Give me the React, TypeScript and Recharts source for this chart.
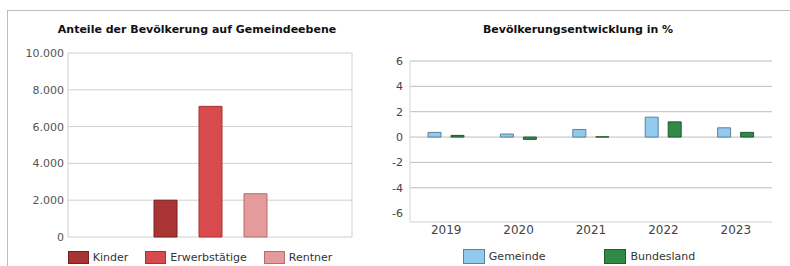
import { BarChart, Bar, XAxis, YAxis, CartesianGrid, Legend } from 'recharts';

// Anteile der Bevölkerung (single group, three series)
const groupLabel = [''];
const kinder = [2000];
const erwerbstaetige = [7100];
const rentner = [2350];
const popTicks = [0, 2000, 4000, 6000, 8000, 10000];

// Bevölkerungsentwicklung in %
const years = ['2019', '2020', '2021', '2022', '2023'];
const gemeinde = [0.37, 0.24, 0.6, 1.57, 0.73];
const bundesland = [0.13, -0.18, 0.02, 1.2, 0.37];
const pctTicks = [-6, -4, -2, 0, 2, 4, 6];
const pctGrid = [-4, -2, 0, 2, 4, 6];

const FONT = '"DejaVu Sans", Verdana, sans-serif';

const SERIES_ORDER = ['Kinder', 'Erwerbstätige', 'Rentner', 'Gemeinde', 'Bundesland'];
const STROKES: Record<string, string> = {
  Kinder: '#7a2020',
  'Erwerbstätige': '#a83232',
  Rentner: '#b56d6d',
  Gemeinde: '#5f809b',
  Bundesland: '#1f5c30',
};

const popData = groupLabel.map((name, i) => ({
  name,
  kinder: kinder[i],
  erwerbstaetige: erwerbstaetige[i],
  rentner: rentner[i],
}));

const pctData = years.map((year, i) => ({
  year,
  gemeinde: gemeinde[i],
  bundesland: bundesland[i],
}));

const formatDe = (v: number) => String(v).replace(/\B(?=(\d{3})+(?!\d))/g, '.');

function BoxLegend({ payload, gap, box }: any) {
  const items = [...(payload || [])].sort(
    (a: any, b: any) => SERIES_ORDER.indexOf(a.value) - SERIES_ORDER.indexOf(b.value)
  );
  return (
    <div
      style={{
        display: 'flex',
        justifyContent: 'center',
        alignItems: 'center',
        gap,
        height: 20,
        fontFamily: FONT,
        fontSize: 11,
        color: '#333',
      }}
    >
      {items.map((p: any) => (
        <div key={p.value} style={{ display: 'flex', alignItems: 'center' }}>
          <span
            style={{
              display: 'inline-block',
              width: box[0],
              height: box[1],
              background: p.color,
              border: `1px solid ${STROKES[p.value] || '#555'}`,
              marginRight: 4,
              boxSizing: 'border-box',
            }}
          />
          {p.value}
        </div>
      ))}
    </div>
  );
}

const titleStyle: React.CSSProperties = {
  position: 'absolute',
  top: 23,
  fontFamily: FONT,
  fontSize: 11,
  fontWeight: 'bold',
  lineHeight: '14px',
  color: '#111',
  textAlign: 'center',
  whiteSpace: 'nowrap',
};

export default function App() {
  return (
    <div
      style={{
        position: 'absolute',
        left: 0,
        top: 0,
        width: 790,
        height: 266,
        background: '#fff',
        overflow: 'hidden',
      }}
    >
      <div
        style={{
          position: 'absolute',
          left: 7,
          top: 10,
          right: 0,
          bottom: 0,
          borderTop: '1px solid #bdbdbd',
          borderLeft: '1px solid #bdbdbd',
        }}
      />

      <div style={{ ...titleStyle, left: 47, width: 300 }}>
        Anteile der Bevölkerung auf Gemeindeebene
      </div>
      <div style={{ ...titleStyle, left: 428, width: 300 }}>
        Bevölkerungsentwicklung in %
      </div>

      <div style={{ position: 'absolute', left: 0, top: 0 }}>
        <BarChart
          width={390}
          height={266}
          data={popData}
          margin={{ top: 53, right: 38, left: 8, bottom: 9 }}
          barGap={22}
        >
          <CartesianGrid
            stroke="#cfcfcf"
            horizontal
            vertical
            verticalCoordinatesGenerator={({ offset }: any) => [offset.left, offset.left + offset.width]}
          />
          <XAxis dataKey="name" hide />
          <YAxis
            width={60}
            domain={[0, 10000]}
            ticks={popTicks}
            axisLine={false}
            tickLine={false}
            tickSize={0}
            tickMargin={4}
            tickFormatter={formatDe}
            tick={{ fontSize: 11, fill: '#555', fontFamily: FONT }}
          />
          <Legend
            height={20}
            wrapperStyle={{ left: 10, top: 247, width: 380 }}
            content={(props: any) => <BoxLegend {...props} gap={17} box={[21, 13]} />}
          />
          <Bar dataKey="kinder" name="Kinder" fill="#a83434" stroke={STROKES.Kinder} barSize={23} isAnimationActive={false} />
          <Bar dataKey="erwerbstaetige" name="Erwerbstätige" fill="#d84a4b" stroke={STROKES['Erwerbstätige']} barSize={23} isAnimationActive={false} />
          <Bar dataKey="rentner" name="Rentner" fill="#e39b9b" stroke={STROKES.Rentner} barSize={23} isAnimationActive={false} />
        </BarChart>
      </div>

      <div style={{ position: 'absolute', left: 390, top: 0 }}>
        <BarChart
          width={400}
          height={266}
          data={pctData}
          margin={{ top: 61, right: 18, left: 0, bottom: 0 }}
          barGap={10}
        >
          <CartesianGrid stroke="#bdbdbd" vertical={false} horizontalValues={pctGrid} />
          <XAxis
            dataKey="year"
            height={24}
            axisLine={{ stroke: '#cfcfcf' }}
            tickLine={false}
            tickSize={0}
            tickMargin={3}
            tick={{ fontSize: 12, fill: '#444', fontFamily: FONT }}
          />
          <YAxis
            width={20}
            domain={[-6.7, 6]}
            ticks={pctTicks}
            axisLine={{ stroke: '#d5d5d5' }}
            tickLine={false}
            tickSize={0}
            tickMargin={7}
            tick={{ fontSize: 11, fill: '#444', fontFamily: FONT }}
          />
          <Legend
            height={20}
            wrapperStyle={{ left: 0, top: 246, width: 378 }}
            content={(props: any) => <BoxLegend {...props} gap={59} box={[22, 15]} />}
          />
          <Bar dataKey="gemeinde" name="Gemeinde" fill="#92c9ee" stroke={STROKES.Gemeinde} barSize={13} isAnimationActive={false} />
          <Bar dataKey="bundesland" name="Bundesland" fill="#2f8a48" stroke={STROKES.Bundesland} barSize={13} isAnimationActive={false} />
        </BarChart>
      </div>
    </div>
  );
}
